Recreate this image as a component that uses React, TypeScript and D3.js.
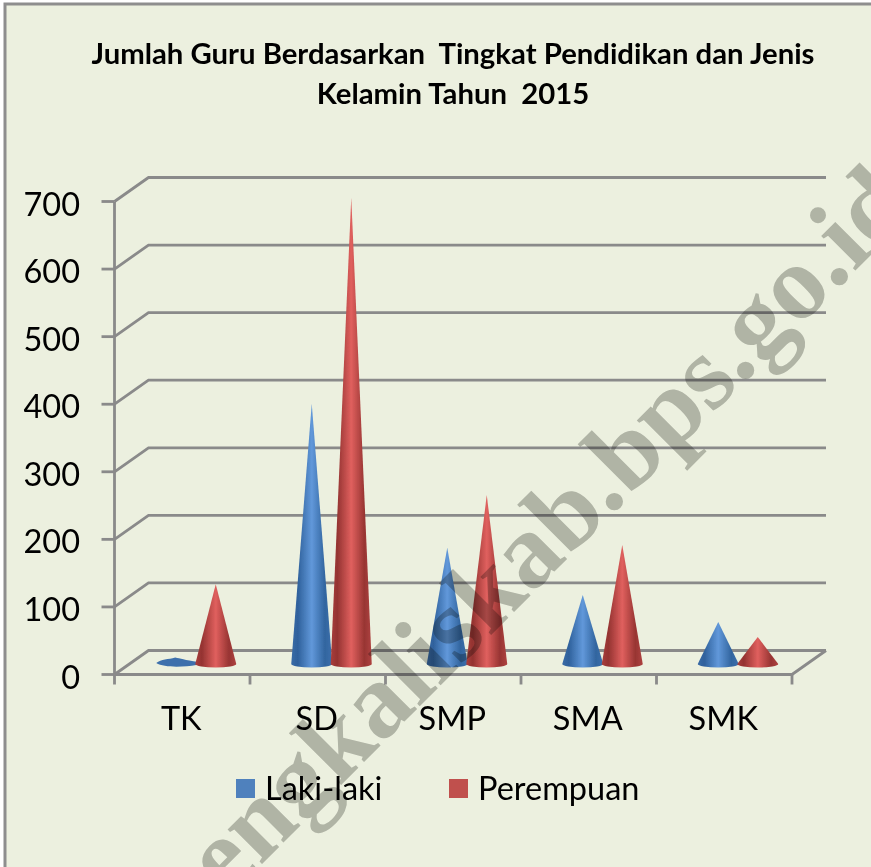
import React from "react";
import * as d3 from "d3";

const categories = ["TK", "SD", "SMP", "SMA", "SMK"];
const lakiLaki = [14, 388, 175, 105, 65];
const perempuan = [121, 693, 253, 179, 43];
const yTicks = [0, 100, 200, 300, 400, 500, 600, 700];
const titleLines = ["Jumlah Guru Berdasarkan  Tingkat Pendidikan dan Jenis", "Kelamin Tahun  2015"];
const legendLabels = ["Laki-laki", "Perempuan"];
const watermark = "bengkaliskab.bps.go.id";

const W = 871, H = 867;
const x0 = 114.5, x1 = 792, dx = 34, dy = -24;
const y = d3.scaleLinear().domain([0, 700]).range([674.5, 201.5]);
const band = d3.scaleBand<string>().domain(categories).range([x0, x1]);
const FONT = "Lato, Carlito, 'Noto Sans', sans-serif";
const GRID = "#8a8a8a";
const BASE = 666;

function Cone({ cx, v, fill }: { cx: number; v: number; fill: string }) {
  const tip = BASE - (y(0) - y(v));
  const rx = 20.5, ry = 3.5;
  const d = `M${cx - rx},${BASE - 2} L${cx},${tip} L${cx + rx},${BASE - 2} A${rx},${ry} 0 0 1 ${cx - rx},${BASE - 2} Z`;
  return <path d={d} fill={`url(#${fill})`} />;
}

function FlatCone({ cx, v }: { cx: number; v: number }) {
  const tip = BASE - (y(0) - y(v));
  const d = `M${cx - 20},${BASE - 3} C${cx - 15},${BASE - 7} ${cx - 8},${tip + 3} ${cx - 1},${tip + 1} C${cx + 4},${tip + 2} ${cx + 8},${BASE - 6} ${cx + 22},${BASE - 4} L${cx + 20},${BASE - 1} C${cx + 8},${BASE + 1} ${cx - 12},${BASE + 2} ${cx - 20},${BASE - 3} Z`;
  return <path d={d} fill="#3c70ac" />;
}

export default function App() {
  return (
    <svg width={W} height={H} style={{ position: "absolute", left: 0, top: 0, display: "block" }}>
      <defs>
        <linearGradient id="blue" x1="0" x2="1" y1="0" y2="0">
          <stop offset="0" stopColor="#3a6ba6" />
          <stop offset="0.16" stopColor="#2f619c" />
          <stop offset="0.5" stopColor="#6198da" />
          <stop offset="0.82" stopColor="#32659f" />
          <stop offset="1" stopColor="#3c70ac" />
        </linearGradient>
        <linearGradient id="red" x1="0" x2="1" y1="0" y2="0">
          <stop offset="0" stopColor="#a83e3c" />
          <stop offset="0.16" stopColor="#943331" />
          <stop offset="0.5" stopColor="#e0605e" />
          <stop offset="0.82" stopColor="#983533" />
          <stop offset="1" stopColor="#ae4240" />
        </linearGradient>
        <filter id="soft" x="-5%" y="-5%" width="110%" height="110%">
          <feGaussianBlur stdDeviation="0.6" />
        </filter>
      </defs>
      <rect x={0} y={0} width={W} height={H} fill="#ffffff" />
      <rect x={5} y={4} width={W + 20} height={H + 20} fill="#ecf0df" stroke="#8e8e8e" strokeWidth={3} />

      <g fontFamily={FONT} fontWeight={700} fontSize={29.3} fill="#000" textAnchor="middle">
        {titleLines.map((t, i) => (
          <text key={i} x={453} y={64 + i * 39.5} style={{ whiteSpace: "pre" }}>{t}</text>
        ))}
      </g>

      <g filter="url(#soft)">
        {yTicks.map((t) => (
          <polyline
            key={t}
            points={`${x0},${y(t)} ${x0 + dx},${y(t) + dy} ${x1 + dx},${y(t) + dy}`}
            fill="none"
            stroke={GRID}
            strokeWidth={2.8}
          />
        ))}
        <polyline points={`${x0},${y(0)} ${x1},${y(0)} ${x1 + dx},${y(0) + dy}`} fill="none" stroke={GRID} strokeWidth={2.8} />
        <line x1={x0} x2={x0} y1={y(700)} y2={y(0)} stroke={GRID} strokeWidth={2.8} />
        {yTicks.map((t) => (
          <line key={t} x1={x0 - 13} x2={x0} y1={y(t)} y2={y(t)} stroke={GRID} strokeWidth={2.8} />
        ))}
        {categories.map((c) => (
          <line key={c} x1={band(c)!} x2={band(c)!} y1={y(0)} y2={y(0) + 10} stroke={GRID} strokeWidth={2.8} />
        ))}
        <line x1={x1} x2={x1} y1={y(0)} y2={y(0) + 10} stroke={GRID} strokeWidth={2.8} />
        {categories.map((c, i) => {
          const cx = band(c)! + band.bandwidth() / 2;
          return (
            <g key={c}>
              {lakiLaki[i] < 20 ? <FlatCone cx={cx - 6} v={lakiLaki[i]} /> : <Cone cx={cx - 6} v={lakiLaki[i]} fill="blue" />}
              <Cone cx={cx + 33.5} v={perempuan[i]} fill="red" />
            </g>
          );
        })}
      </g>

      <g fontFamily={FONT} fontSize={32.5} fill="#000">
        {yTicks.map((t) => (
          <text key={t} x={80} y={y(t) + 14} textAnchor="end">{t}</text>
        ))}
        {categories.map((c) => (
          <text key={c} x={band(c)! + band.bandwidth() / 2 - 1} y={730} textAnchor="middle">{c}</text>
        ))}
        <rect x={236} y={779} width={19} height={19} fill="#4f81bd" />
        <text x={265} y={800}>{legendLabels[0]}</text>
        <rect x={449} y={779} width={19} height={19} fill="#c0504d" />
        <text x={478} y={800}>{legendLabels[1]}</text>
      </g>

      <text
        transform="translate(185,941) rotate(-45)"
        fontFamily="'Liberation Serif', serif"
        fontWeight={700}
        fontSize={106}
        fill="#bebfbd"
        style={{ mixBlendMode: "multiply" }}
      >
        {watermark}
      </text>
    </svg>
  );
}
